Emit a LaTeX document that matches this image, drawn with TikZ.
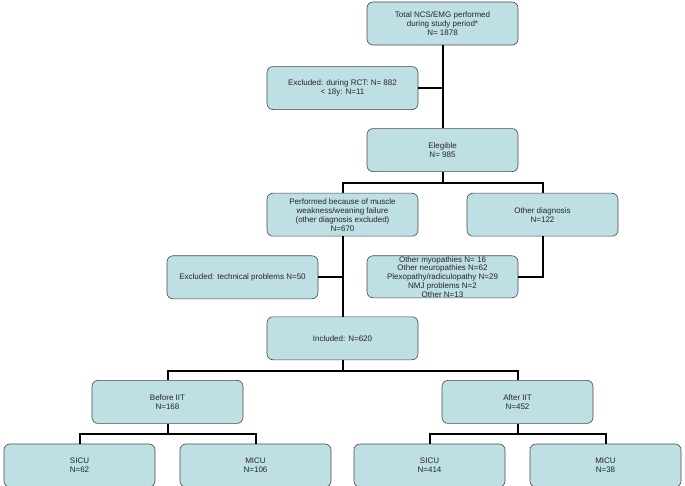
\documentclass[tikz,border=0pt]{standalone}
\usepackage{fontspec}
\setmainfont{Liberation Sans}
\usetikzlibrary{positioning, calc}
\definecolor{boxfill}{RGB}{190,223,228}
\definecolor{boxline}{RGB}{70,70,70}

\begin{document}
\begin{tikzpicture}[
    stage/.style={rectangle, rounded corners=6pt, line width=0.6pt,
                  draw=boxline, fill=boxfill, align=center,
                  minimum width=151pt, minimum height=43pt,
                  inner xsep=4pt, inner ysep=2pt, text=black!85,
                  font=\fontsize{8}{9}\selectfont},
    link/.style={line width=2pt, black},
    node distance=21pt
]
\useasboundingbox (0,0) rectangle (685pt,-486pt);

% Screening
\node[stage] (total) at (442.5pt,-23.5pt)
    {Total NCS/EMG performed\\during study period*\\N= 1878};
\node[stage, below=21pt of total, xshift=-100pt] (excl)
    {Excluded: during RCT: N= 882\\< 18y: N=11};
\node[stage, below=83pt of total] (elig) {Elegible\\N= 985};

% Diagnosis split
\node[stage, below=21pt of elig, xshift=-100pt] (perf)
    {Performed because of muscle\\weakness/weaning failure\\(other diagnosis excluded)\\N=670};
\node[stage, below=21pt of elig, xshift=100pt] (other) {Other diagnosis\\N=122};
\node[stage, below=19pt of perf, xshift=-100pt] (tech)
    {Excluded: technical problems N=50};
\node[stage, below=19pt of perf, xshift=100pt, inner ysep=0pt, minimum height=42pt,
      font=\fontsize{8}{8.7}\selectfont] (causes)
    {Other myopathies N= 16\\Other neuropathies N=62\\Plexopathy/radiculopathy N=29\\NMJ problems N=2\\Other N=13};
\node[stage, below=80pt of perf] (incl) {Included: N=620};

% IIT groups
\node[stage, below=20pt of incl, xshift=-175pt] (before) {Before IIT\\N=168};
\node[stage, below=20pt of incl, xshift=175pt] (after) {After IIT\\N=452};
\node[stage, below=20pt of before, xshift=-88pt] (sicub) {SICU\\N=62};
\node[stage, below=20pt of before, xshift=88pt] (micub) {MICU\\N=106};
\node[stage, below=20pt of after, xshift=-88pt] (sicua) {SICU\\N=414};
\node[stage, below=20pt of after, xshift=88pt] (micua) {MICU\\N=38};

% Forks
\coordinate[below=11pt of elig.south] (eligfork);
\coordinate[below=11pt of incl.south] (inclfork);
\coordinate[below=10pt of before.south] (beforefork);
\coordinate[below=10pt of after.south] (afterfork);

% Connectors
\draw[link] (total.south) -- (elig.north);
\draw[link] (excl.east) -- (excl.east -| total.south);
\draw[link] (elig.south) -- (eligfork) -| (perf.north);
\draw[link] (eligfork) -| (other.north);
\draw[link] (perf.south) -- (incl.north);
\draw[link] (tech.east) -- (tech.east -| perf.south);
\draw[link] (other.south) |- (causes.east);
\draw[link] (incl.south) -- (inclfork) -| (before.north);
\draw[link] (inclfork) -| (after.north);
\draw[link] (before.south) -- (beforefork) -| (sicub.north);
\draw[link] (beforefork) -| (micub.north);
\draw[link] (after.south) -- (afterfork) -| (sicua.north);
\draw[link] (afterfork) -| (micua.north);
\end{tikzpicture}
\end{document}
